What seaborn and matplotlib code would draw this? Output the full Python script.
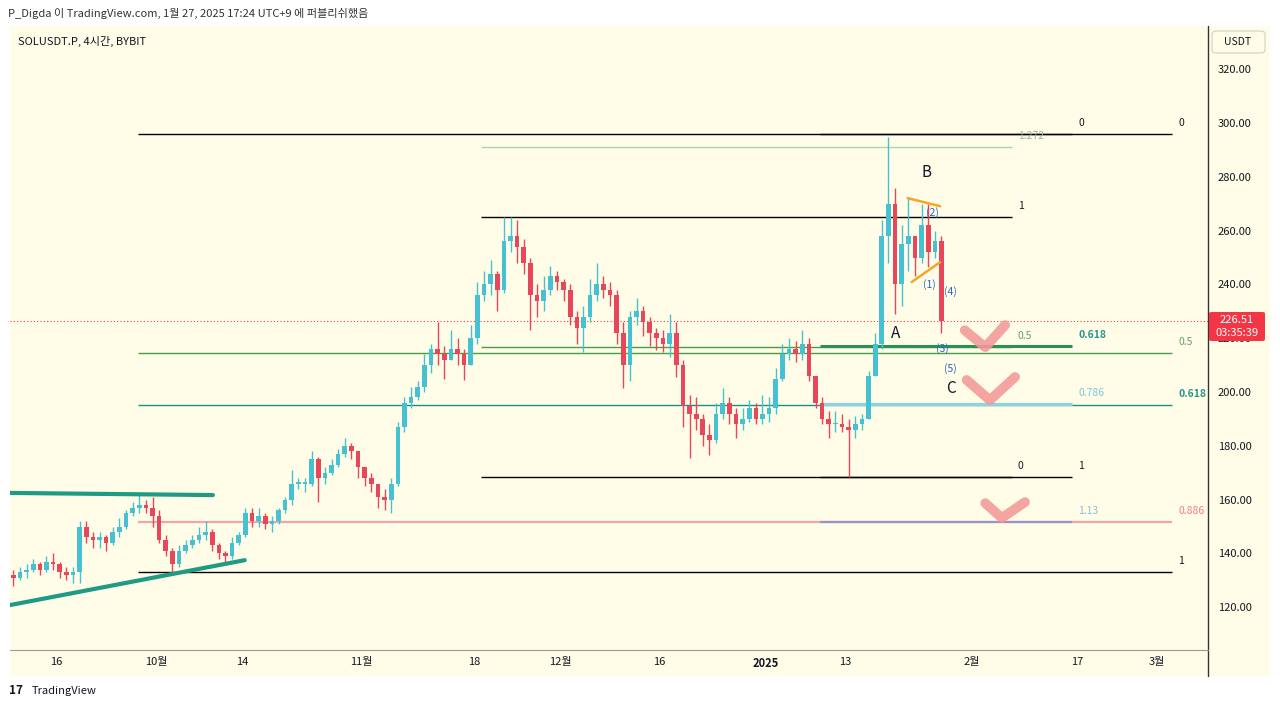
import matplotlib
matplotlib.use("Agg")
import matplotlib.pyplot as plt
from matplotlib.patches import Rectangle, FancyBboxPatch
import numpy as np
import pandas as pd
import seaborn as sns

# SOLUSDT.P daily bars (2024-09-09 .. 2025-01-27)
start_date = "2024-09-09"
first_open = 132

closes = [
    # Sep 9-30
    131, 133, 134, 136, 134, 137, 136, 133, 132, 133, 150, 146, 145, 146, 144, 148, 150, 155, 157, 158, 157, 154,
    # Oct
    145, 141, 136, 141, 143, 145, 147, 148, 143, 140, 139, 144, 147, 155, 152, 154, 151, 152, 156, 160, 166, 166,
    166, 175, 168, 170, 173, 177, 180, 178, 172,
    # Nov
    168, 166, 161, 160, 166, 187, 196, 198, 202, 210, 216, 214, 212, 216, 214, 210, 220, 236, 240, 244, 238, 256,
    258, 254, 248, 236, 234, 238, 243, 241,
    # Dec
    238, 228, 224, 228, 236, 240, 238, 236, 222, 210, 228, 230, 226, 222, 220, 218, 222, 210, 195, 192, 190, 184,
    182, 192, 196, 192, 188, 190, 194, 190, 192,
    # Jan 1-27
    194, 205, 214, 216, 214, 218, 206, 196, 190, 188, 188, 187, 186, 188, 190, 206, 218, 258, 270, 240, 255, 258,
    250, 262, 252, 256, 226.51,
]
highs = [
    134, 135, 136, 138, 137, 139, 140, 137, 135, 135, 152, 152, 148, 148, 147, 150, 153, 156, 159, 162, 160, 161,
    156, 147, 142, 143, 145, 147, 150, 152, 149, 144, 141, 146, 148, 157, 157, 157, 155, 154, 157, 161, 171, 168,
    168, 178, 176, 172, 175, 179, 183, 181, 178,
    172, 170, 166, 164, 168, 189, 198, 202, 204, 214, 218, 226, 217, 223, 220, 216, 225, 241, 245, 249, 245, 265,
    265, 264, 257, 250, 240, 243, 247, 245,
    242, 240, 230, 232, 242, 248, 243, 241, 238, 226, 230, 235, 232, 228, 224, 223, 229, 226, 212, 199, 198, 192,
    188, 196, 201.5, 198, 194, 194, 197, 196, 199,
    198, 209, 218, 220, 219, 223, 220, 206, 198, 193, 193, 192, 190, 191, 192, 208, 222, 264, 295, 276, 262, 272.5,
    258, 270, 270, 260, 258,
]
lows = [
    128, 130, 131, 133, 132, 133, 134, 131, 130, 129, 129, 144, 142, 142, 141, 143, 146, 149, 154, 155, 155, 150,
    144, 139, 133, 135, 140, 142, 144, 145, 141, 138, 137, 138, 143, 146, 150, 150, 149, 148, 151, 155, 158, 164,
    163, 165, 159, 166, 169, 172, 176, 175, 168,
    165, 163, 157, 156, 155, 165, 185, 194, 197, 200, 207, 210, 205, 212, 210, 204.5, 210, 218, 234, 236, 230, 237,
    252, 248, 244, 223, 228, 230, 236, 238,
    234, 225, 218, 215, 226, 234, 235, 232, 218, 201.5, 204, 225, 221, 217, 215.6, 215, 213, 205.6, 187, 175.5, 186,
    180, 176.7, 181, 190, 188, 183, 186, 189, 188, 188,
    189, 192, 204, 212, 211, 212, 204, 194, 188, 183, 185, 185, 168.5, 183, 186, 190, 206, 216, 248, 229, 232, 245,
    243, 248, 246.5, 250, 222,
]

tick_days = [7, 22, 35, 53, 70, 83, 98, 114, 126, 145, 161, 173]
tick_labels = ["16", "10월", "14", "11월", "18", "12월", "16", "2025", "13", "2월", "17", "3월"]
price_ticks = [120, 140, 160, 180, 200, 220, 240, 260, 280, 300, 320]
last_price = 226.51
countdown = "03:35:39"

# fib tools: [(price, label)]
fib_a_levels = [(295.9, "0"), (214.5, "0.5"), (195.2, "0.618"), (151.7, "0.886"), (133.0, "1")]
fib_b_levels = [(168.4, "0"), (216.75, "0.5"), (265.1, "1"), (291.1, "1.272")]
fib_c_levels = [(295.9, "0"), (217.1, "0.618"), (195.7, "0.786"), (168.4, "1"), (151.8, "1.13")]

df = pd.DataFrame({"close": closes, "high": highs, "low": lows})
df["date"] = pd.date_range(start_date, periods=len(df), freq="D")
df["open"] = [first_open] + closes[:-1]
df["day"] = np.arange(len(df)) + 0.5
df["up"] = df["close"] >= df["open"]

sns.set_theme(style="white")
plt.rcParams["font.family"] = ["Noto Sans CJK KR", "DejaVu Sans"]

W, H = 1280, 709
CREAM = "#fffde8"
INK = "#131722"
UP = "#45c1d2"
DOWN = "#e8475b"


def fx(px):
    return px / W


def fy(py):
    return 1 - py / H


fig = plt.figure(figsize=(12.8, 7.09), dpi=100)
fig.patch.set_facecolor("white")
fig.patches.append(Rectangle((fx(10), fy(676)), fx(1260), (676 - 26) / H, transform=fig.transFigure,
                             facecolor=CREAM, edgecolor="none", zorder=-1))

ax = fig.add_axes([fx(10), fy(650), (1208 - 10) / W, (650 - 26) / H])
ax.set_facecolor("none")
ax.set_xlim(0, 180.7)
ax.set_ylim(104.1, 336.1)
for s in ax.spines.values():
    s.set_visible(False)

# candles
colors = np.where(df["up"], UP, DOWN)
ax.vlines(df["day"], df["low"], df["high"], colors=colors, lw=1.0, zorder=3)
body_lo = df[["open", "close"]].min(axis=1)
body_h = (df["close"] - df["open"]).abs().clip(lower=0.5)
ax.bar(df["day"], body_h, bottom=body_lo, width=0.7, color=colors, zorder=4, linewidth=0)

# last price
ax.axhline(last_price, color="#f23645", ls=(0, (1, 2)), lw=0.8, zorder=2)

# fib retracement tools
fib_a_style = {"0": ("black", 1.0, INK), "0.5": ("#43a047", 1.0, "#5fa35f"),
               "0.618": ("#1b8f86", 1.0, "#26968a"), "0.886": ("#f4a3ab", 1.6, "#ef7f8a"),
               "1": ("black", 1.0, INK)}
fib_b_style = {"0": ("black", 1.0, INK), "0.5": ("#43a047", 1.0, "#5fa35f"),
               "1": ("black", 1.0, INK), "1.272": ("#a8d8a8", 1.0, "#9fb59f")}
fib_c_style = {"0": ("black", 1.0, INK), "0.618": ("#2b8f58", 2.2, "#26968a"),
               "0.786": ("#8fd3e2", 2.4, "#7cc6dc"), "1": ("black", 1.0, INK),
               "1.13": ("#9a94c8", 1.6, "#86bfe0")}

for (d0, d1, lab_x), levels, style in [((19.3, 175.3, 176.2), fib_a_levels, fib_a_style),
                                       ((71.0, 151.1, 152.0), fib_b_levels, fib_b_style),
                                       ((122.2, 160.2, 161.1), fib_c_levels, fib_c_style)]:
    for price, lab in levels:
        lc, lw, tc = style[lab]
        ax.hlines(price, d0, d1, color=lc, lw=lw, zorder=2)
        bold = lab == "0.618"
        ax.text(lab_x, price + 4.1, lab, color=tc, fontsize=7.5, ha="left", va="center",
                fontweight="bold" if bold else "normal", zorder=5)

# triangle / trend lines
trend = pd.DataFrame({"d": [0, 30.6, 0, 35.4, 135.4, 140.3, 136.0, 140.3],
                      "p": [162.5, 161.7, 120.8, 137.5, 272.1, 269.1, 240.9, 248.3],
                      "g": ["t1", "t1", "t2", "t2", "o1", "o1", "o2", "o2"]})
for g, col, lw in [("t1", "#1f9a84", 3.0), ("t2", "#1f9a84", 3.0), ("o1", "#f5a623", 1.8), ("o2", "#f5a623", 1.8)]:
    sub = trend[trend["g"] == g]
    sns.lineplot(data=sub, x="d", y="p", ax=ax, color=col, lw=lw, zorder=6, legend=False)

# pink check marks
checks = [([144.0, 147.1, 150.1], [223.0, 216.7, 224.9]),
          ([144.3, 147.8, 151.6], [204.5, 197.0, 205.6]),
          ([147.1, 149.6, 153.1], [158.7, 153.2, 159.1])]
for xs, ys in checks:
    ax.plot(xs, ys, color="#f39a9a", lw=7, alpha=0.9, solid_capstyle="round",
            solid_joinstyle="round", zorder=7)

# wave labels
for d, p, t in [(138.2, 281.8, "B"), (133.5, 221.6, "A"), (141.9, 201.5, "C")]:
    ax.text(d, p, t, fontsize=11, color=INK, ha="center", va="center", zorder=8)
for d, p, t in [(139.1, 266.9, "(2)"), (138.6, 240.1, "(1)"), (141.8, 237.5, "(4)"),
                (140.6, 216.0, "(3)"), (141.9, 208.6, "(5)")]:
    ax.text(d, p, t, fontsize=7.5, color="#2f62c8", ha="center", va="center", zorder=8)

# axes ticks
ax.yaxis.tick_right()
ax.set_yticks(price_ticks)
ax.set_yticklabels([f"{v:.2f}" for v in price_ticks])
ax.tick_params(axis="y", length=0, pad=7, labelsize=8, colors=INK)
ax.set_xticks(tick_days)
ax.set_xticklabels(tick_labels)
ax.tick_params(axis="x", length=0, pad=5, labelsize=8, colors=INK)
ax.get_xticklabels()[7].set_fontweight("bold")
ax.set_xlabel("")
ax.set_ylabel("")
ax.grid(False)

# frame lines
fig.add_artist(plt.Line2D([fx(1208), fx(1208)], [fy(26), fy(676)], color="#333333", lw=1.0))
fig.add_artist(plt.Line2D([fx(10), fx(1208)], [fy(650), fy(650)], color="#9a9a9a", lw=0.8))

# price tag (covers the 220.00 label, as on the chart)
fig.patches.append(FancyBboxPatch((fx(1209), fy(341)), (1265 - 1209) / W, (341 - 312) / H,
                                  boxstyle="round,pad=0,rounding_size=0.002", transform=fig.transFigure,
                                  facecolor="#f23645", edgecolor="none", zorder=5))
fig.text(fx(1237), fy(320), f"{last_price:.2f}", color="white", fontsize=8, ha="center", va="center", zorder=6)
fig.text(fx(1237), fy(333), countdown, color="white", fontsize=8, ha="center", va="center", zorder=6)

# USDT box
fig.patches.append(FancyBboxPatch((fx(1212), fy(53)), (1265 - 1212) / W, (53 - 31) / H,
                                  boxstyle="round,pad=0,rounding_size=0.004", transform=fig.transFigure,
                                  facecolor=CREAM, edgecolor="#d0d0c8", lw=0.8, zorder=5))
fig.text(fx(1238), fy(42), "USDT", color=INK, fontsize=7.5, ha="center", va="center", zorder=6)

# titles
fig.text(fx(8), fy(13), "P_Digda 이 TradingView.com, 1월 27, 2025 17:24 UTC+9 에 퍼블리쉬했음",
         fontsize=8, color="#333333", ha="left", va="center")
fig.text(fx(18), fy(41), "SOLUSDT.P, 4시간, BYBIT", fontsize=8, color=INK, ha="left", va="center")
fig.text(fx(9), fy(691), "17", fontsize=8.5, fontweight="bold", color=INK, ha="left", va="center")
fig.text(fx(32), fy(691), "TradingView", fontsize=8, color=INK, ha="left", va="center")

fig.savefig("out.png", dpi=100, facecolor="white")
